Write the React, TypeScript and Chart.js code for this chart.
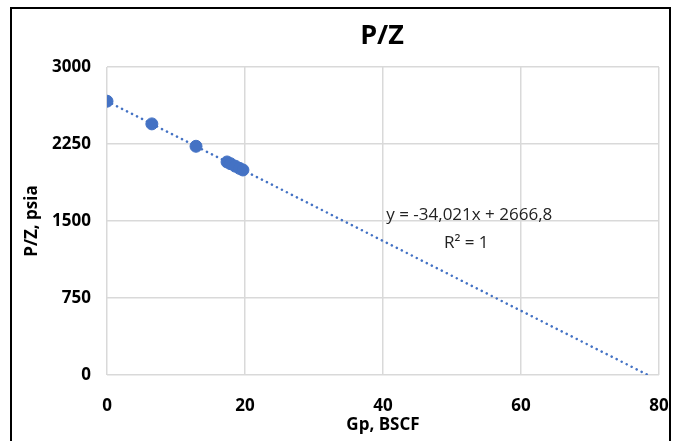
import React, { useEffect, useRef } from "react";
import { Chart, registerables } from "chart.js";

Chart.register(...registerables);

const gpValues = [0, 6.5, 12.9, 17.4, 17.9, 18.6, 19.2, 19.7];
const pzValues = [2667, 2446, 2228, 2075, 2058, 2034, 2013, 1997];
const trendX = [0, 78.39];
const trendY = [2666.8, 0];
const equationLines = ["y = -34,021x + 2666,8", "R² = 1"];
const equationAnchor = { x: 52.5, y: 1560 };

const FONT = "'Open Sans', 'DejaVu Sans', sans-serif";

export default function App() {
  const ref = useRef<HTMLCanvasElement | null>(null);
  useEffect(() => {
    if (!ref.current) return;
    const textPlugin = {
      id: "extraText",
      afterDatasetsDraw(chart: any) {
        const ctx = chart.ctx;
        const xs = chart.scales.x;
        const ys = chart.scales.y;
        ctx.save();
        ctx.fillStyle = "#000";
        ctx.font = `bold 27px ${FONT}`;
        ctx.textAlign = "center";
        ctx.textBaseline = "middle";
        ctx.fillText("P/Z", 382, 36);
        ctx.font = `17px ${FONT}`;
        ctx.fillStyle = "#222";
        const px = xs.getPixelForValue(equationAnchor.x);
        const py = ys.getPixelForValue(equationAnchor.y);
        ctx.fillText(equationLines[0], px, py);
        ctx.fillText(equationLines[1], px - 3, py + 28);
        ctx.restore();
      },
    };
    const chart = new Chart(ref.current, {
      type: "scatter",
      data: {
        datasets: [
          {
            label: "P/Z",
            data: gpValues.map((x, i) => ({ x, y: pzValues[i] })),
            backgroundColor: "#4472C4",
            borderColor: "#4472C4",
            pointRadius: 6,
            pointHoverRadius: 6,
            order: 1,
          },
          {
            label: "Trend",
            type: "line",
            data: trendX.map((x, i) => ({ x, y: trendY[i] })),
            borderColor: "#4472C4",
            borderWidth: 2.5,
            borderDash: [0.1, 5.5],
            borderCapStyle: "round",
            pointRadius: 0,
            fill: false,
            order: 2,
          } as any,
        ],
      },
      options: {
        animation: false,
        responsive: false,
        maintainAspectRatio: false,
        layout: { padding: { left: 22, right: 27, top: 67, bottom: 6 } },
        plugins: {
          legend: { display: false },
          tooltip: { enabled: false },
          title: { display: false },
        },
        scales: {
          x: {
            type: "linear",
            min: 0,
            max: 80,
            ticks: {
              stepSize: 20,
              color: "#000",
              padding: 21,
              font: { family: FONT, size: 17, weight: "bold" },
              callback: (v: any) => String(v),
            },
            grid: { color: "#d9d9d9", lineWidth: 1.5, drawTicks: false },
            border: { display: false },
            title: {
              display: true,
              text: "Gp, BSCF",
              color: "#000",
              padding: { top: 0, bottom: 0 },
              font: { family: FONT, size: 17, weight: "bold" },
            },
            afterFit(scale: any) {
              scale.height = 60;
              scale.paddingRight = 0;
            },
          },
          y: {
            type: "linear",
            min: 0,
            max: 3000,
            ticks: {
              stepSize: 750,
              color: "#000",
              padding: 16,
              font: { family: FONT, size: 17, weight: "bold" },
              callback: (v: any) => String(v),
            },
            grid: { color: "#d9d9d9", lineWidth: 1.5, drawTicks: false },
            border: { display: false },
            title: {
              display: true,
              text: "P/Z, psia",
              color: "#000",
              padding: { top: 0, bottom: 0 },
              font: { family: FONT, size: 17, weight: "bold" },
            },
            afterFit(scale: any) {
              scale.width = 85;
            },
          },
        },
      },
      plugins: [textPlugin],
    } as any);
    return () => chart.destroy();
  }, []);

  return (
    <div style={{ position: "fixed", left: 0, top: 0, width: 686, height: 441, background: "#fff" }}>
      <canvas ref={ref} width={686} height={441} style={{ position: "absolute", left: 0, top: 0 }} />
      <div
        style={{
          position: "absolute",
          left: 10,
          top: 7,
          width: 661,
          height: 440,
          borderLeft: "2px solid #000",
          borderTop: "2px solid #000",
          borderRight: "2px solid #000",
          boxSizing: "border-box",
          pointerEvents: "none",
        }}
      />
    </div>
  );
}
